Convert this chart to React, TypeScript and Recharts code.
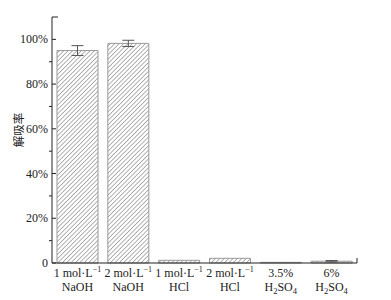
import { Bar, BarChart, ErrorBar, XAxis, YAxis } from "recharts"

const line1 = ["1 mol·L", "2 mol·L", "1 mol·L", "2 mol·L", "3.5%", "6%"]
const hasInverse = [true, true, true, true, false, false]
const line2 = ["NaOH", "NaOH", "HCl", "HCl", "H2SO4", "H2SO4"]
const desorption = [95.0, 98.2, 1.2, 2.1, 0.3, 0.8]
const errors = [2.2, 1.4, 0, 0, 0, 0.3]
const yTicks = [0, 10, 20, 30, 40, 50, 60, 70, 80, 90, 100, 110]

const data = line1.map((_, i) => ({ id: i, value: desorption[i], err: errors[i] }))

const serif = "'Liberation Serif', 'Times New Roman', serif"

function Formula({ text }: { text: string }) {
  // digits become subscripts (H2SO4)
  const parts = text.split(/(\d)/).filter(Boolean)
  return (
    <>
      {parts.map((p, i) =>
        /\d/.test(p) ? (
          <tspan key={i} fontSize={8.5} dy={3}>{p}</tspan>
        ) : (
          <tspan key={i} dy={i > 0 && /\d/.test(parts[i - 1]) ? -3 : 0}>{p}</tspan>
        )
      )}
    </>
  )
}

function XTick(props: any) {
  const { x, y, payload, width, visibleTicksCount } = props
  const i = payload.index
  // end cap on the right edge of the last band
  const half = payload.offset || width / (2 * (visibleTicksCount || line1.length))
  return (
    <g>
      {i === line1.length - 1 && (
        <line x1={x + half} x2={x + half} y1={y} y2={y - 5} stroke="#222" strokeWidth={1} />
      )}
      <text x={x} y={y + 14} textAnchor="middle" fontFamily={serif} fontSize={12} fill="#222">
        {line1[i]}
        {hasInverse[i] && (
          <tspan fontSize={8} dy={-5}>−1</tspan>
        )}
      </text>
      <text x={x} y={y + 28} textAnchor="middle" fontFamily={serif} fontSize={12} fill="#222">
        {/\d/.test(line2[i]) ? <Formula text={line2[i]} /> : line2[i]}
      </text>
    </g>
  )
}

function YTick(props: any) {
  const { x, y, payload } = props
  const v = payload.value
  if (v === 110) {
    return <line x1={x} x2={x + 6} y1={y} y2={y} stroke="#222" />
  }
  if (v % 20 !== 0) {
    return <line x1={x - 3} x2={x} y1={y} y2={y} stroke="#222" />
  }
  return (
    <g>
      <line x1={x} x2={x + 4} y1={y} y2={y} stroke="#222" />
      <text x={x - 4} y={y + 4} textAnchor="end" fontFamily={serif} fontSize={12} fill="#222">
        {v === 0 ? "0" : `${v}%`}
      </text>
    </g>
  )
}

function YLabel(props: any) {
  const { viewBox } = props
  const cx = viewBox.x + 18
  const cy = viewBox.y + viewBox.height / 2 - 10
  return (
    <text
      x={cx}
      y={cy}
      transform={`rotate(-90, ${cx}, ${cy})`}
      textAnchor="middle"
      dominantBaseline="central"
      fontFamily="'Noto Sans CJK SC', sans-serif"
      fontSize={11.5}
      fill="#222"
    >
      解吸率
    </text>
  )
}

export default function App() {
  return (
    <div style={{ width: 391, height: 300, background: "#fff" }}>
      <style>{`body{margin:0}`}</style>
      <BarChart width={391} height={300} data={data} margin={{ top: 17, right: 34, bottom: 0, left: 0 }}>
        <defs>
          <pattern id="hatch" patternUnits="userSpaceOnUse" width={3.1} height={3.1} patternTransform="rotate(45)">
            <rect width={3.1} height={3.1} fill="#fff" />
            <line x1={0} y1={0} x2={0} y2={3.1} stroke="#555" strokeWidth={0.9} />
          </pattern>
        </defs>
        <XAxis
          dataKey="id"
          height={37}
          tickLine={false}
          tickSize={0}
          tickMargin={0}
          axisLine={{ stroke: "#222" }}
          interval={0}
          tick={<XTick />}
        />
        <YAxis
          width={52}
          domain={[0, 110]}
          ticks={yTicks}
          interval={0}
          tickLine={false}
          tickSize={0}
          tickMargin={0}
          axisLine={{ stroke: "#222" }}
          tick={<YTick />}
          label={<YLabel />}
        />
        <Bar
          dataKey="value"
          barSize={41}
          fill="url(#hatch)"
          stroke="#999"
          strokeWidth={1}
          isAnimationActive={false}
        >
          <ErrorBar dataKey="err" width={6} stroke="#555" strokeWidth={1} direction="y" />
        </Bar>
      </BarChart>
    </div>
  )
}
